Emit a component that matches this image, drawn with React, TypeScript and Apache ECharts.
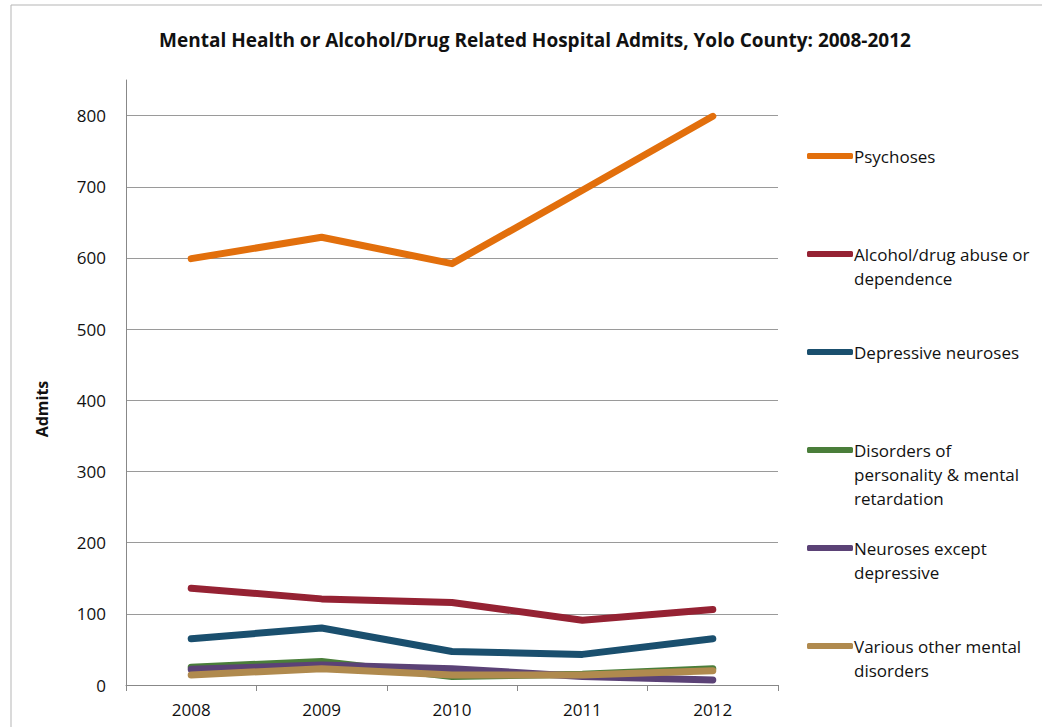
import React, { useEffect, useRef } from "react";
import * as echarts from "echarts";

const years = ["2008", "2009", "2010", "2011", "2012"];
const seriesNames = [
  "Psychoses",
  "Alcohol/drug abuse or dependence",
  "Depressive neuroses",
  "Disorders of personality & mental retardation",
  "Neuroses except depressive",
  "Various other mental disorders",
];
const legendLabels = [
  "Psychoses",
  "Alcohol/drug abuse or\ndependence",
  "Depressive neuroses",
  "Disorders of\npersonality & mental\nretardation",
  "Neuroses except\ndepressive",
  "Various other mental\ndisorders",
];
const psychoses = [599, 629, 592, 695, 799];
const alcoholDrug = [136, 121, 116, 91, 106];
const depressive = [65, 80, 47, 43, 65];
const personality = [25, 33, 12, 15, 23];
const neurosesOther = [22, 28, 23, 12, 7];
const variousOther = [14, 23, 14, 14, 20];
const seriesValues = [psychoses, alcoholDrug, depressive, personality, neurosesOther, variousOther];
const colors = ["#E26F0C", "#952233", "#1A4F6E", "#4A7E3A", "#5B4276", "#B08A4E"];
const legendTops = [156, 254, 352, 450, 548, 646];

const FONT = "'Open Sans', sans-serif";

export default function App() {
  const ref = useRef<HTMLDivElement>(null);
  useEffect(() => {
    if (!ref.current) return;
    const chart = echarts.init(ref.current, undefined, { renderer: "svg" });
    const lh = 24;
    chart.setOption({
      animation: false,
      backgroundColor: "#ffffff",
      title: {
        text: "Mental Health or Alcohol/Drug Related Hospital Admits, Yolo County: 2008-2012",
        left: 530,
        textAlign: "center",
        top: 25,
        textStyle: { fontFamily: FONT, fontSize: 19, fontWeight: "bold", color: "#111" },
      },
      graphic: [
        {
          type: "rect",
          shape: { x: 11, y: 5, width: 1040, height: 730 },
          style: { fill: "none", stroke: "#b5b5b5", lineWidth: 1 },
          silent: true,
        },
        {
          type: "text",
          x: 42,
          y: 409,
          rotation: Math.PI / 2,
          style: {
            text: "Admits",
            fontFamily: FONT,
            fontSize: 16,
            fontWeight: "bold",
            fill: "#111",
            align: "center",
            verticalAlign: "middle",
          },
          silent: true,
        },
      ],
      grid: { left: 126, right: 264, top: 80, bottom: 42, containLabel: false },
      xAxis: {
        type: "category",
        data: years,
        boundaryGap: true,
        axisLine: { lineStyle: { color: "#888", width: 1 } },
        axisTick: { show: true, length: 6, lineStyle: { color: "#888" } },
        axisLabel: { fontFamily: FONT, fontSize: 17, color: "#111", margin: 16 },
      },
      yAxis: {
        type: "value",
        min: 0,
        max: 850,
        interval: 100,
        axisLine: { show: true, lineStyle: { color: "#888", width: 1 } },
        axisTick: { show: false },
        axisLabel: {
          fontFamily: FONT,
          fontSize: 17,
          color: "#111",
          margin: 20,
          formatter: (v: number) => (v > 800 ? "" : String(v)),
        },
        splitLine: {
          show: true,
          lineStyle: {
            color: ["#9a9a9a", "#9a9a9a", "#9a9a9a", "#9a9a9a", "#9a9a9a", "#9a9a9a", "#9a9a9a", "#9a9a9a", "#9a9a9a", "rgba(0,0,0,0)"],
            width: 1,
          },
        },
      },
      legend: seriesNames.map((name, i) => {
        const n = legendLabels[i].split("\n").length;
        const label = "\n".repeat(n - 1) + legendLabels[i];
        const boxH = (2 * n - 1) * lh;
        return {
          data: [name],
          left: 807,
          top: legendTops[i] - boxH / 2,
          orient: "vertical",
          padding: 0,
          icon: "roundRect",
          itemWidth: 46,
          itemHeight: 6,
          itemGap: 0,
          selectedMode: false,
          formatter: () => label,
          textStyle: {
            fontFamily: FONT,
            fontSize: 17,
            color: "#111",
            lineHeight: lh,
            padding: [0, 0, 0, -4],
          },
        };
      }),
      series: seriesNames.map((name, i) => ({
        name,
        type: "line",
        data: seriesValues[i],
        symbol: "none",
        lineStyle: { color: colors[i], width: 7, cap: "round", join: "round" },
        itemStyle: { color: colors[i] },
      })),
    });
    return () => chart.dispose();
  }, []);
  return (
    <div
      ref={ref}
      style={{ position: "fixed", left: 0, top: 0, width: 1042, height: 727 }}
    />
  );
}
